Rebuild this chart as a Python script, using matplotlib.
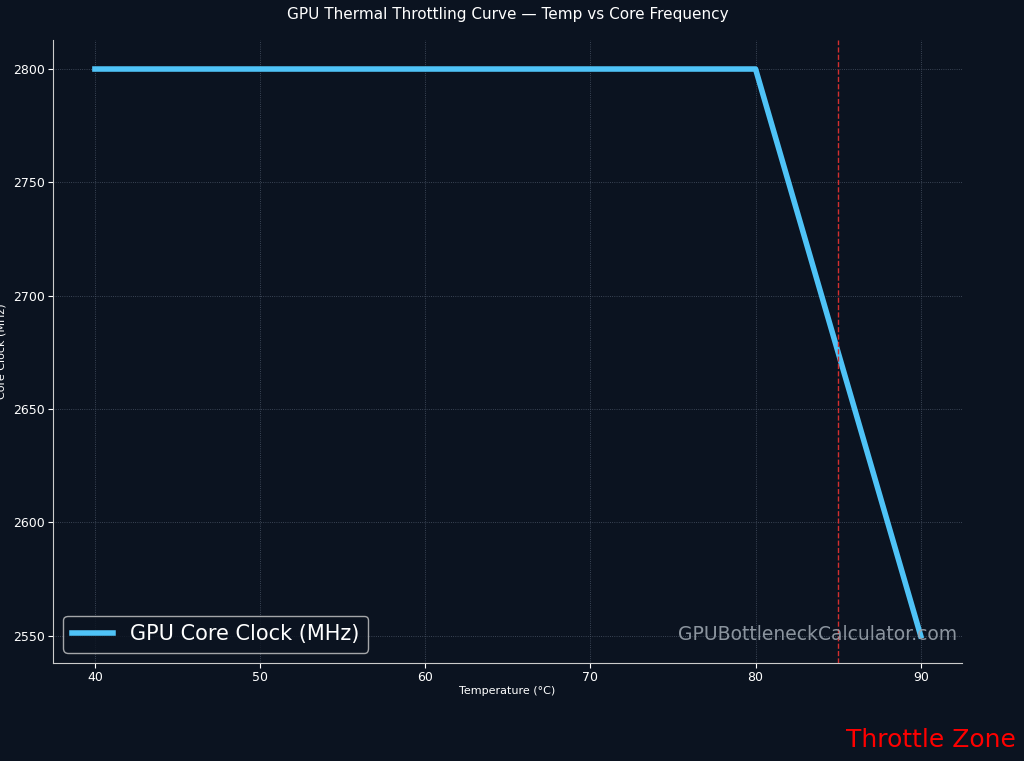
import matplotlib
matplotlib.use("Agg")
import matplotlib.pyplot as plt

temps = [40, 50, 60, 70, 80, 85, 90]
clock = [2800, 2800, 2800, 2800, 2800, 2675, 2550]
throttle_temp = 85

bg = "#0b1320"
fig = plt.figure(figsize=(10.24, 7.61), dpi=100, facecolor=bg)
ax = fig.add_axes([53/1024, 1-663/761, (962-53)/1024, (663-40)/761], facecolor=bg)
ax.plot(temps, clock, color="#4fc3f7", lw=4, label="GPU Core Clock (MHz)")
ax.axvline(throttle_temp, color="#d32f2f", ls="--", lw=1)
ax.set_xlim(37.46, 92.5)
ax.set_ylim(2538, 2812.8)
ax.set_xticks([40, 50, 60, 70, 80, 90])
ax.set_yticks([2550, 2600, 2650, 2700, 2750, 2800])
ax.grid(True, color="#4a5566", ls=":", lw=0.6)
for s in ["top", "right"]:
    ax.spines[s].set_visible(False)
for s in ["left", "bottom"]:
    ax.spines[s].set_color("#cccccc")
ax.tick_params(colors="white", labelsize=9, pad=2)
ax.set_xlabel("Temperature (°C)", color="white", fontsize=8, labelpad=2)
ax.set_ylabel("Core Clock (MHz)", color="white", fontsize=8)
ax.yaxis.set_label_coords(-46/909, 0.5)
ax.set_title("GPU Thermal Throttling Curve — Temp vs Core Frequency", color="white", fontsize=11, pad=15)
leg = ax.legend(loc="lower left", fontsize=15, facecolor=bg, edgecolor="#cccccc", labelcolor="white")
ax.text(0.995, 0.03, "GPUBottleneckCalculator.com", transform=ax.transAxes, ha="right", va="bottom",
        color="#9aa3ad", fontsize=13.5, alpha=0.9)
fig.text(1016/1024, 1-740/761, "Throttle Zone", color="red", fontsize=18, ha="right", va="center")
fig.savefig("out.png", dpi=100, facecolor=bg)
